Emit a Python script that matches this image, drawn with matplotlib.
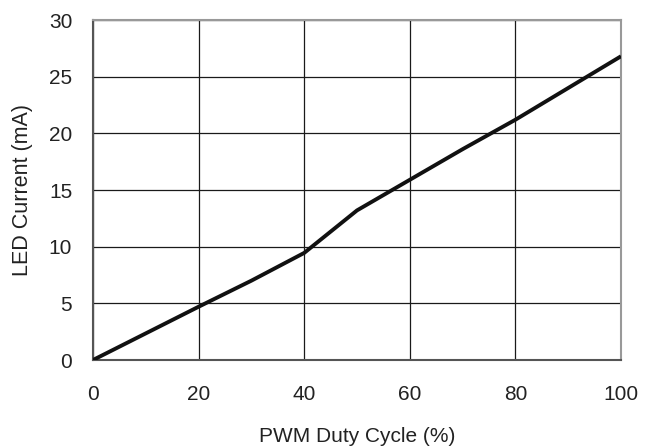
import matplotlib
matplotlib.use("Agg")
import matplotlib.pyplot as plt

duty = [0, 10, 20, 30, 40, 50, 60, 70, 80, 90, 100]
current = [0, 2.35, 4.7, 7.0, 9.45, 13.2, 15.9, 18.6, 21.2, 24.0, 26.8]
xticks = [0, 20, 40, 60, 80, 100]
yticks = [0, 5, 10, 15, 20, 25, 30]

plt.rcParams['font.family'] = ['Liberation Sans', 'DejaVu Sans']

fig = plt.figure(figsize=(6.55, 4.47), dpi=100)
ax = fig.add_axes([93/655, 1-360/447, (621-93)/655, (360-20)/447])

ax.plot(duty, current, color='#111111', lw=2.8, solid_capstyle='butt', zorder=3)

ax.set_xlim(0, 100)
ax.set_ylim(0, 30)
ax.set_xticks(xticks)
ax.set_yticks(yticks)
ax.grid(True, color='#1a1a1a', lw=0.9)
ax.set_axisbelow(True)
ax.tick_params(axis='both', length=0, labelsize=15, colors='#222222')
ax.tick_params(axis='x', pad=18)
ax.tick_params(axis='y', pad=15)

for s in ['left', 'bottom']:
    ax.spines[s].set_color('#555555')
    ax.spines[s].set_linewidth(1.5)
for s in ['top', 'right']:
    ax.spines[s].set_color('#999999')
    ax.spines[s].set_linewidth(1.5)

ax.set_xlabel('PWM Duty Cycle (%)', fontsize=15, color='#222222')
ax.set_ylabel('LED Current (mA)', fontsize=15.5, color='#222222')
ax.xaxis.set_label_coords(0.5, -0.198)
ax.yaxis.set_label_coords(-0.113, 0.5)

fig.savefig('out.png', dpi=100)
